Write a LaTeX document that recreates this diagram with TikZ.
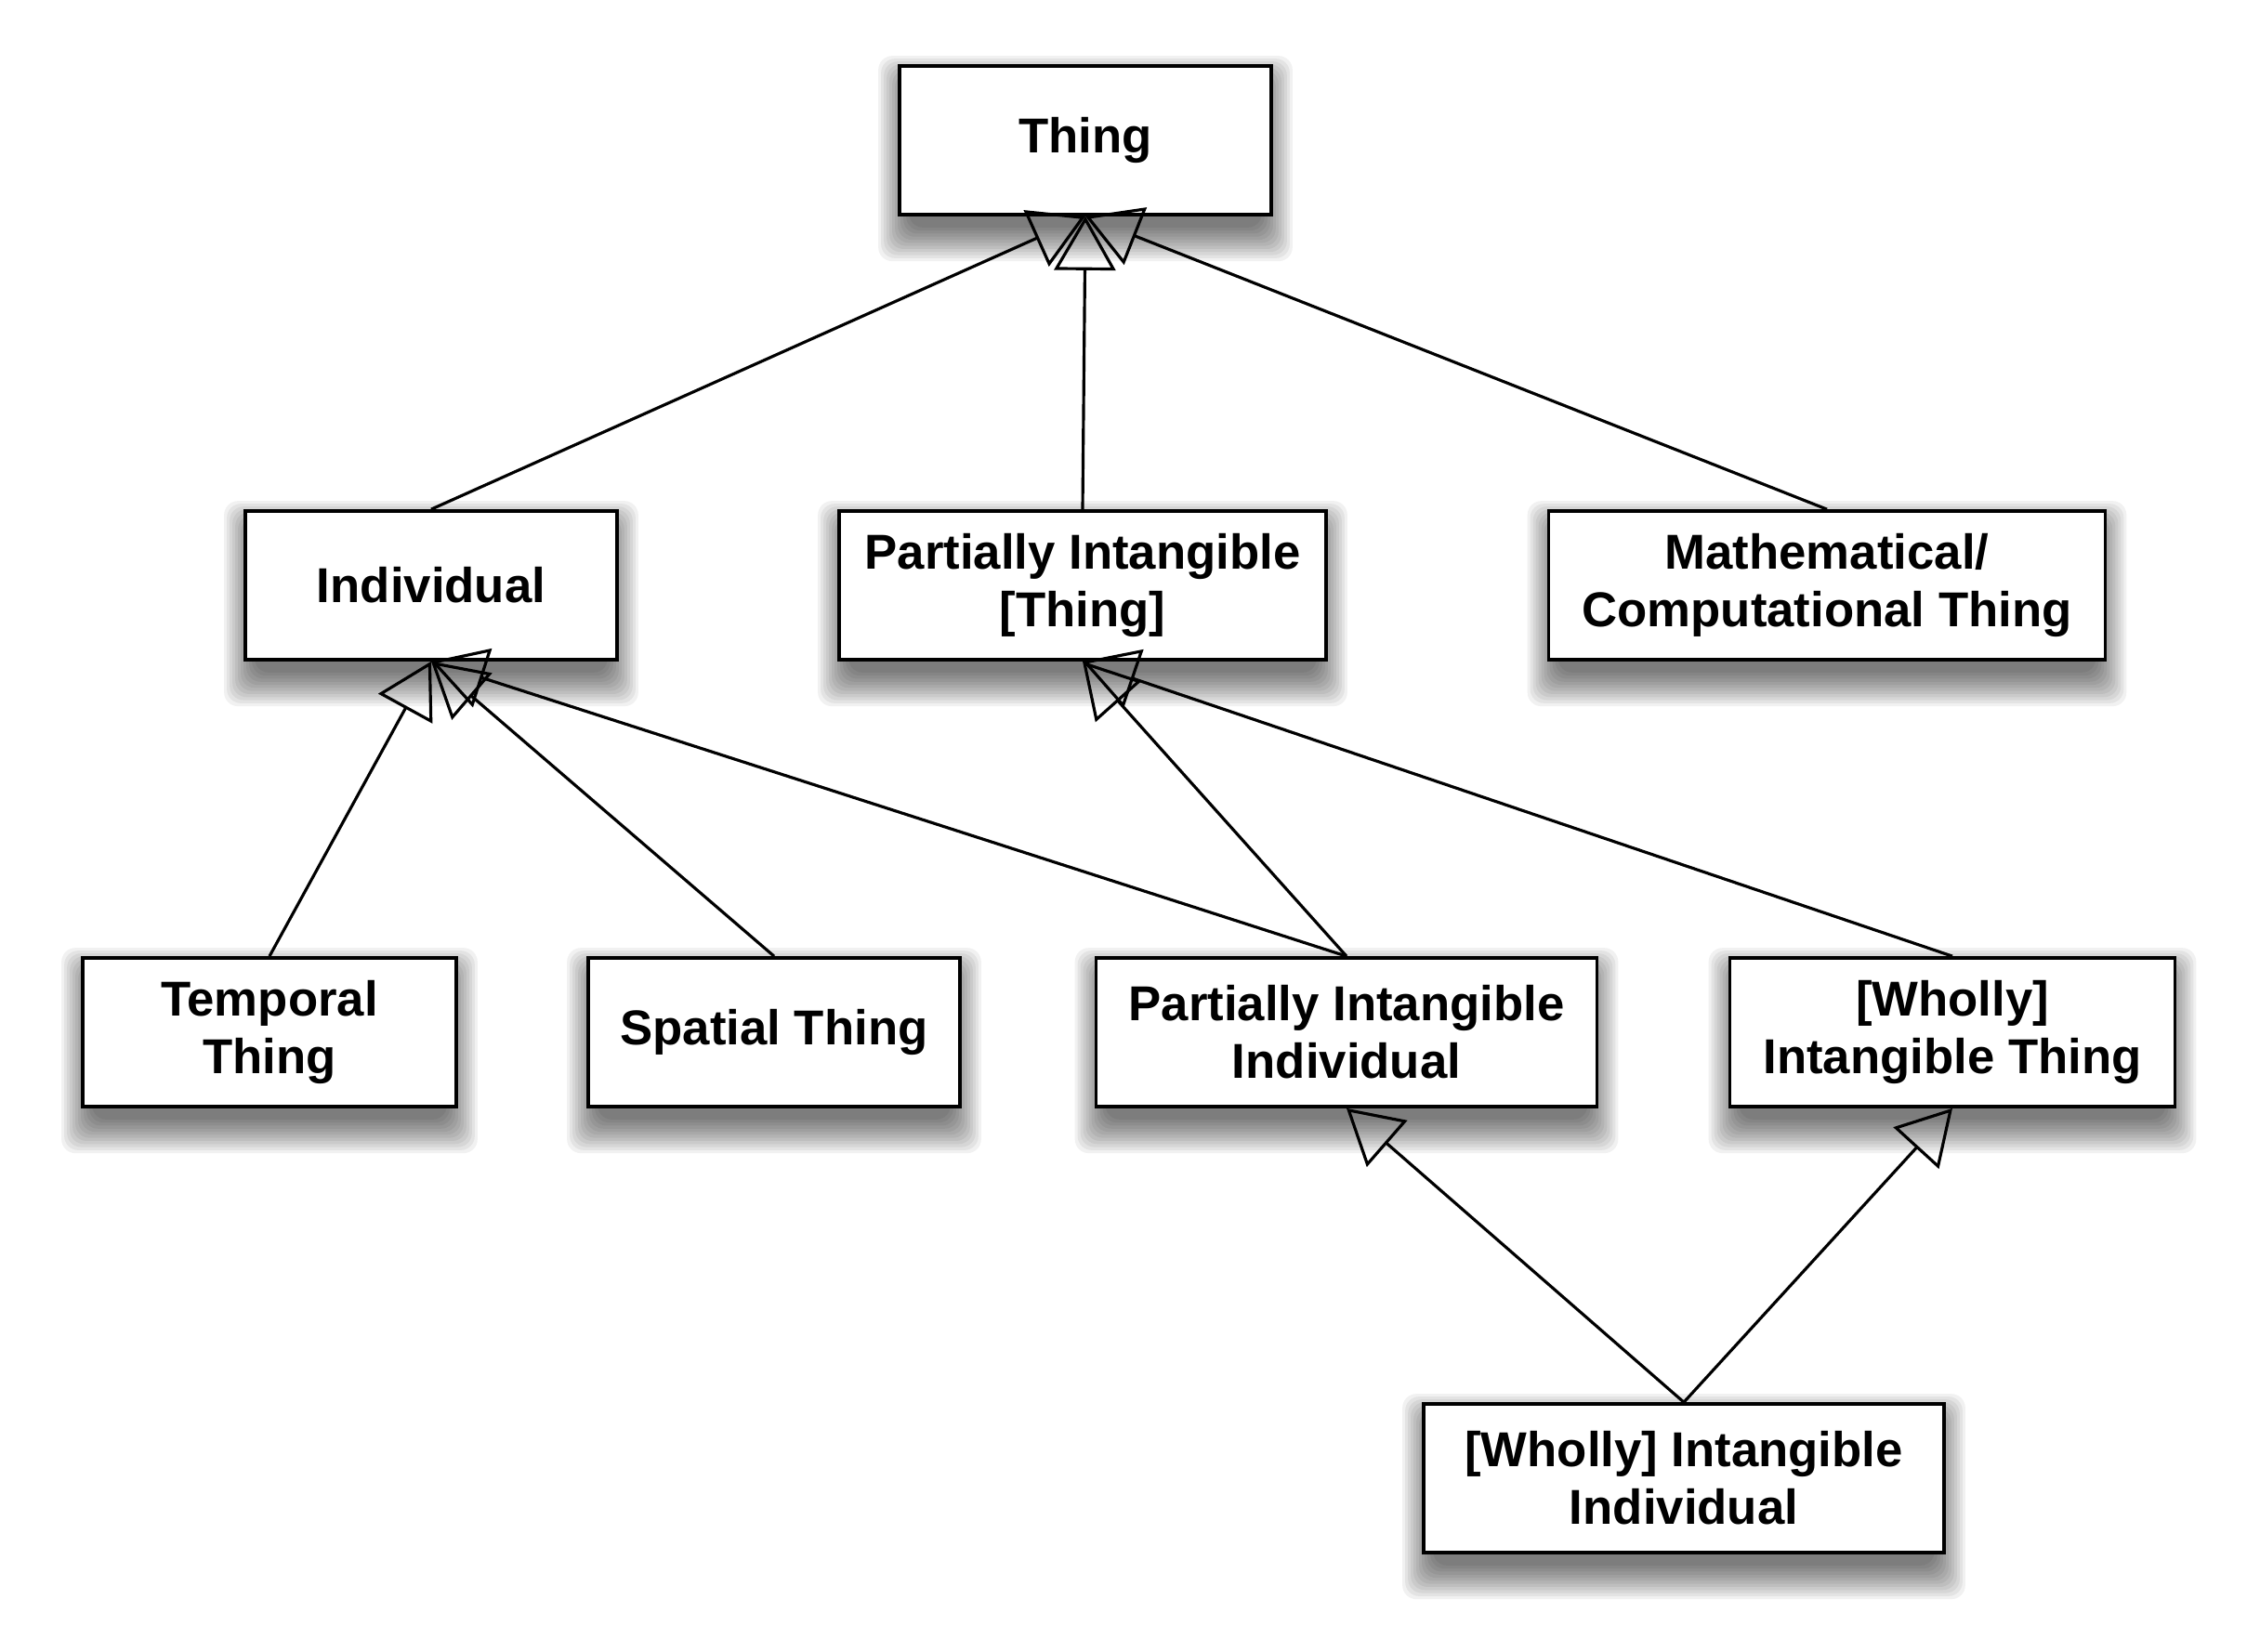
\documentclass[tikz,border=0pt]{standalone}
\usepackage{fontspec}
\setmainfont{Liberation Sans}
\usetikzlibrary{arrows.meta,backgrounds}

\begin{document}
\begin{tikzpicture}[
  classbox/.style={draw, line width=1.05pt, fill=white, align=center, inner sep=0pt,
    minimum height=1.6cm, font=\fontsize{15}{17.6}\selectfont\bfseries},
  isa/.style={line width=0.9pt, -{Triangle[open, length=5.8mm, width=6.6mm]}}]
  \useasboundingbox (0,0) rectangle (24.32,-17.78);

  % top
  \node[classbox, minimum width=4cm] (thing) at (11.68,-1.51) {Thing};

  % second row
  \node[classbox, minimum width=4cm] (ind) at (4.64,-6.30) {Individual};
  \node[classbox, minimum width=5.24cm] (pit) at (11.65,-6.30) {Partially Intangible\\{}[Thing]};
  \node[classbox, minimum width=5.99cm] (math) at (19.66,-6.30) {Mathematical/\\Computational Thing};

  % third row
  \node[classbox, minimum width=4.02cm] (temp) at (2.90,-11.11) {Temporal\\Thing};
  \node[classbox, minimum width=4cm] (spat) at (8.33,-11.11) {Spatial Thing};
  \node[classbox, minimum width=5.39cm] (pii) at (14.49,-11.11) {Partially Intangible\\Individual};
  \node[classbox, minimum width=4.79cm] (wit) at (21.01,-11.11) {[Wholly]\\Intangible Thing};

  % bottom
  \node[classbox, minimum width=5.6cm] (wii) at (18.12,-15.91) {[Wholly] Intangible\\Individual};

  % generalisations
  \draw[isa] (ind.north) -- (thing.south);
  \draw[isa] (pit.north) -- (thing.south);
  \draw[isa] (math.north) -- (thing.south);
  \draw[isa] (temp.north) -- (ind.south);
  \draw[isa] (spat.north) -- (ind.south);
  \draw[isa] (pii.north) -- (ind.south);
  \draw[isa] (pii.north) -- (pit.south);
  \draw[isa] (wit.north) -- (pit.south);
  \draw[isa] (wii.north) -- (pii.south);
  \draw[isa] (wii.north) -- (wit.south);

  % soft shadows
  \begin{scope}[on background layer]
    \fill[white] (0,0) rectangle (24.32,-17.78);
    \foreach \n in {thing,ind,pit,math,temp,spat,pii,wit,wii}
      \foreach \k in {0,...,11}
        \fill[black, opacity=0.055, rounded corners=1.5mm]
          ([xshift=1.2mm-\k*0.3mm, yshift=-1.2mm-\k*0.33mm]\n.south west)
          rectangle ([xshift=-1.2mm+\k*0.3mm, yshift=-2.4mm+\k*0.3mm]\n.north east);
  \end{scope}
\end{tikzpicture}
\end{document}
